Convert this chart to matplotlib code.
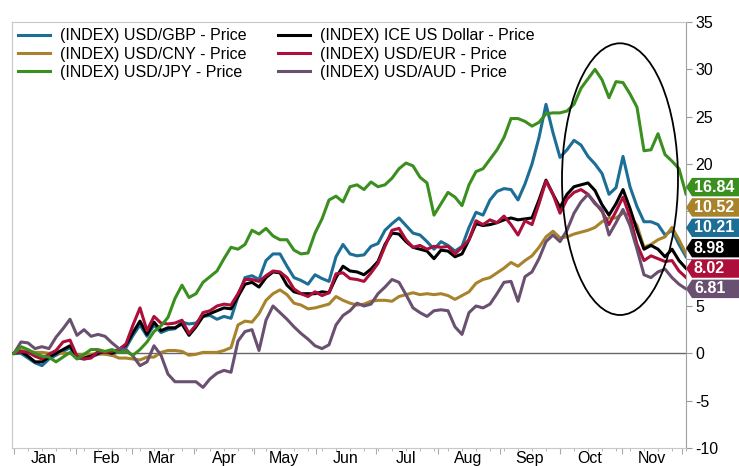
import numpy as np
import pandas as pd
import matplotlib
matplotlib.use("Agg")
import matplotlib.pyplot as plt
import matplotlib.dates as mdates
from matplotlib.patches import Ellipse, Polygon
from matplotlib.transforms import blended_transform_factory

plt.rcParams['font.family'] = ['Liberation Sans', 'DejaVu Sans']

# % change since Jan 1, sampled about twice a week
dates = pd.date_range("2022-01-01", periods=97, freq="84h")

gbp = [0.0, 0.0, -0.5, -1.0, -1.3, -0.6, -0.2, 0.2, 0.6, -0.5,
       -0.6, -0.4, -0.1, 0.0, -0.2, 0.3, 0.6, 1.9, 3.0, 1.8,
       3.0, 2.2, 2.5, 2.6, 3.3, 3.1, 3.2, 3.9, 4.0, 3.6,
       3.9, 3.7, 6.0, 8.0, 8.2, 7.8, 9.8, 10.5, 10.5, 9.2,
       8.0, 7.7, 7.3, 8.3, 7.9, 7.6, 10.2, 11.5, 10.5, 10.3,
       10.4, 11.3, 11.6, 13.0, 13.7, 14.3, 13.5, 12.7, 12.5, 11.8,
       11.0, 11.8, 11.4, 10.8, 11.3, 13.3, 14.9, 14.6, 16.2, 17.1,
       17.4, 17.3, 16.2, 17.9, 20.0, 22.8, 26.3, 23.3, 20.7, 21.5,
       22.5, 22.0, 20.8, 20.0, 19.0, 16.8, 17.5, 20.8, 17.6, 15.5,
       13.9, 13.9, 13.6, 12.5, 13.0, 11.5, 10.21]

cny = [0.0, 0.3, 0.2, 0.1, 0.1, 0.0, 0.1, 0.0, 0.0, -0.2,
       -0.1, -0.1, 0.0, -0.1, -0.2, -0.5, -0.5, -0.6, -0.7, -0.4,
       -0.4, 0.1, 0.3, 0.3, 0.2, -0.2, -0.1, 0.1, 0.1, 0.1,
       0.3, 0.6, 3.0, 3.4, 3.3, 4.2, 5.6, 6.3, 6.7, 6.2,
       5.3, 5.1, 4.7, 4.8, 5.0, 5.2, 6.0, 5.6, 5.3, 5.1,
       5.2, 5.5, 5.6, 5.6, 5.5, 6.0, 6.2, 6.4, 6.2, 6.3,
       6.2, 6.3, 6.1, 5.7, 6.1, 6.5, 7.4, 7.8, 8.0, 8.5,
       9.0, 9.6, 9.2, 9.8, 10.3, 11.2, 12.3, 12.9, 12.2, 12.3,
       12.6, 12.8, 13.0, 13.3, 13.9, 14.3, 14.3, 14.8, 14.6, 13.5,
       11.2, 11.5, 12.0, 12.3, 13.3, 12.0, 10.52]

jpy = [0.0, 0.7, 0.4, 0.0, -0.3, -0.4, -0.9, -0.4, 0.1, -0.6,
       -0.1, 0.4, 0.4, 0.2, 0.4, 0.1, 0.2, -0.2, 0.4, 1.2,
       2.3, 2.9, 3.8, 5.8, 7.2, 5.9, 6.3, 7.5, 8.1, 8.7,
       10.0, 11.2, 11.0, 11.5, 13.0, 12.6, 13.2, 12.4, 12.0, 12.0,
       10.9, 10.5, 10.6, 12.7, 14.2, 16.2, 16.6, 16.0, 17.6, 17.8,
       17.3, 18.1, 17.6, 17.8, 18.5, 19.5, 20.1, 19.8, 18.6, 18.0,
       14.6, 15.8, 17.0, 16.5, 15.6, 17.8, 19.2, 19.5, 20.5, 21.5,
       22.8, 24.8, 24.8, 24.5, 24.0, 24.4, 25.3, 25.4, 25.4, 25.6,
       26.3, 28.0, 29.0, 30.0, 28.9, 27.0, 28.7, 28.6, 27.4, 26.0,
       21.4, 21.5, 23.2, 21.0, 20.3, 19.5, 16.84]

dxy = [0.0, 0.2, -0.3, -0.9, -0.9, -0.4, 0.0, 0.4, 0.8, -0.4,
       -0.5, -0.3, 0.0, 0.2, 0.0, 0.4, 0.9, 2.2, 3.4, 2.0,
       3.3, 2.4, 2.7, 2.7, 3.1, 1.9, 2.8, 3.9, 4.2, 4.5,
       4.8, 4.7, 6.0, 7.3, 7.5, 7.0, 8.0, 8.6, 8.5, 7.2,
       6.5, 6.3, 6.3, 6.3, 6.5, 6.4, 8.0, 9.2, 8.7, 8.6,
       8.3, 8.9, 9.7, 11.5, 12.7, 12.6, 11.8, 11.2, 11.0, 10.8,
       10.0, 10.9, 10.8, 10.2, 10.5, 12.0, 13.7, 13.5, 13.6, 13.8,
       14.1, 14.3, 14.1, 14.2, 14.3, 16.2, 18.3, 16.8, 15.4, 16.8,
       17.6, 17.8, 18.0, 17.2, 15.7, 14.6, 15.8, 17.3, 15.3, 13.0,
       11.0, 11.4, 11.0, 10.2, 11.0, 9.8, 8.98]

eur = [0.0, 0.2, 0.1, -0.3, -0.6, -0.1, 0.3, 1.2, 1.4, -0.3,
       -0.6, -0.5, 0.2, 0.1, 0.2, 0.4, 1.0, 3.0, 4.8, 2.4,
       3.9, 3.2, 3.1, 3.2, 3.5, 2.1, 3.0, 4.3, 4.5, 5.0,
       5.2, 5.1, 6.3, 7.8, 7.8, 7.6, 8.2, 8.7, 8.6, 8.0,
       6.8, 6.3, 6.0, 6.5, 6.1, 6.4, 8.4, 8.5, 7.9, 7.8,
       7.6, 8.5, 9.5, 11.3, 13.0, 13.2, 12.0, 11.2, 11.4, 11.0,
       11.3, 11.2, 11.3, 10.5, 11.2, 12.0, 14.0, 13.6, 14.1, 13.8,
       14.5, 13.6, 12.5, 14.0, 13.6, 15.8, 18.2, 16.8, 14.8, 16.3,
       17.0, 17.3, 16.8, 15.9, 15.0, 13.6, 15.0, 16.5, 14.4, 11.5,
       9.8, 10.3, 10.0, 9.7, 9.8, 8.7, 8.02]

aud = [0.0, 1.2, 1.1, 0.5, 0.7, 0.5, 1.7, 2.6, 3.6, 1.9,
       2.5, 1.8, 2.0, 1.8, 1.1, 0.5, 0.4, -0.3, -1.3, -0.9,
       0.8, -0.2, -2.2, -3.0, -3.0, -3.0, -3.0, -3.6, -2.7, -2.1,
       -1.8, -2.0, 1.3, 2.3, 2.5, 0.3, 3.5, 5.0, 4.3, 3.6,
       2.8, 2.1, 1.5, 0.8, 0.5, 0.9, 3.0, 4.0, 4.5, 5.3,
       5.0, 5.2, 6.3, 7.0, 7.8, 7.5, 6.2, 4.8, 4.3, 3.9,
       4.5, 4.6, 4.5, 2.8, 2.0, 4.3, 5.0, 4.8, 5.2, 6.3,
       7.5, 7.6, 5.5, 8.1, 8.6, 10.0, 11.8, 12.5, 11.8, 13.0,
       14.8, 16.0, 16.8, 15.8, 15.2, 12.5, 13.8, 15.2, 13.5, 11.0,
       8.3, 8.0, 8.6, 8.9, 8.0, 7.3, 6.81]

names = ["(INDEX) USD/GBP - Price", "(INDEX) USD/CNY - Price",
         "(INDEX) USD/JPY - Price", "(INDEX) ICE US Dollar - Price",
         "(INDEX) USD/EUR - Price", "(INDEX) USD/AUD - Price"]
series = [gbp, cny, jpy, dxy, eur, aud]
colors = ["#1c6e96", "#a8832c", "#3b8f1f", "#000000", "#ad0e3a", "#6a5070"]
draw_order = [0, 1, 3, 4, 5, 2]

yticks = np.arange(-10, 36, 5)
# 10 and 15 sit under the value tags, so their labels are left blank
ytick_labels = ["" if t in (10, 15) else str(t) for t in yticks]

fig = plt.figure(figsize=(7.39, 4.66), dpi=100)
ax = fig.add_axes([12 / 739, 18 / 466, 674 / 739, 426 / 466])

ax.axhline(0, color="#666666", lw=1.0, zorder=1)

lines = {}
for i in draw_order:
    ln, = ax.plot(dates, series[i], color=colors[i], lw=2.2, label=names[i],
                  zorder=2 + draw_order.index(i))
    lines[i] = ln

ax.set_ylim(-10, 35)
ax.set_yticks(yticks)
ax.set_yticklabels(ytick_labels)
ax.set_xlim(pd.Timestamp("2021-12-31"), pd.Timestamp("2022-12-03"))

ax.yaxis.tick_right()
ax.tick_params(axis="y", direction="out", length=4, color="#999999",
               labelsize=11.5, pad=3)
for s in ["left", "top", "bottom"]:
    ax.spines[s].set_color("#c8c8c8")
ax.spines["right"].set_color("#a0a0a0")

ax.xaxis.set_major_locator(mdates.MonthLocator())
ax.xaxis.set_major_formatter(plt.NullFormatter())
ax.xaxis.set_minor_locator(mdates.WeekdayLocator(byweekday=mdates.SA))
ax.tick_params(axis="x", which="major", length=4, color="#aaaaaa")
ax.tick_params(axis="x", which="minor", length=2, color="#aaaaaa")

sec = ax.secondary_xaxis("bottom")
sec.xaxis.set_major_locator(mdates.MonthLocator(bymonthday=16))
sec.xaxis.set_major_formatter(mdates.DateFormatter("%b"))
sec.tick_params(length=0, pad=2.5, labelsize=11.5)
sec.spines["bottom"].set_visible(False)

leg = ax.legend([lines[i] for i in range(6)], names, ncol=2, loc="upper left",
                bbox_to_anchor=(0.0, 1.0), frameon=False, fontsize=11.5,
                handlelength=2.0, handletextpad=0.6, columnspacing=2.0,
                labelspacing=0.2, borderaxespad=0.2, borderpad=0.2)

# circle around the Oct/Nov move
ell = Ellipse((mdates.date2num(pd.Timestamp("2022-10-31")), 18.4), width=58,
              height=28.7, fill=False, edgecolor="black", lw=1.3, zorder=10)
ax.add_patch(ell)

# last-value tags on the right, nudged apart so they don't overlap
last = np.array([s[-1] for s in series])
gap = 2.15
tag_y = {}
prev = None
for i in np.argsort(last):
    y = last[i] if prev is None else max(last[i], prev + gap)
    tag_y[i] = y
    prev = y

trans = blended_transform_factory(ax.transAxes, ax.transData)
h = 1.95
tip = 6 / 674
for i, y in tag_y.items():
    verts = [(1.0, y), (1.0 + tip, y + h / 2), (1.12, y + h / 2),
             (1.12, y - h / 2), (1.0 + tip, y - h / 2)]
    ax.add_patch(Polygon(verts, closed=True, facecolor=colors[i],
                         edgecolor="none", transform=trans, clip_on=False,
                         zorder=20))
    ax.text(1.0 + 8 / 674, y, "%.2f" % last[i], transform=trans, ha="left",
            va="center", color="white", fontsize=11.5, fontweight="bold",
            zorder=21, clip_on=False)

fig.savefig("out.png", dpi=100)
